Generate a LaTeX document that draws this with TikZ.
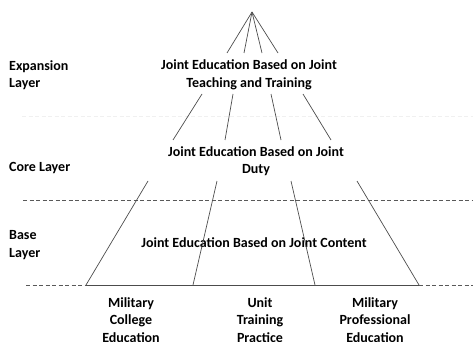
\documentclass[tikz,border=0pt]{standalone}
\usepackage{fontspec}
\setmainfont{Carlito}
\tikzset{
    layer/.style={
           align=left,
           anchor=west,
           inner sep=0pt,
           font=\fontsize{14}{17.5}\selectfont\bfseries},
    stage/.style={
           align=center,
           inner sep=0pt,
           font=\fontsize{14}{17.5}\selectfont\bfseries},
    ray/.style={draw=black!70, line width=0.7pt},
    sep/.style={draw=black!65, line width=0.7pt, dash pattern=on 4pt off 2.5pt},
    faint/.style={draw=black!6, line width=0.8pt, dash pattern=on 4pt off 2.5pt}
    }
\begin{document}
\begin{tikzpicture}[x=1pt,y=-1pt]
      \useasboundingbox (0,0) rectangle (473,342);
      % layer names
      \node[layer] (expL) at (9,75) {Expansion\\Layer};
      \node[layer] (coreL) at (9,168) {Core Layer};
      \node[layer] (baseL) at (9,245) {Base\\Layer};
      % stages
      \node[stage] (exp) at (249,75) {Joint Education Based on Joint\\Teaching and Training};
      \node[stage] (core) at (256,161) {Joint Education Based on Joint\\Duty};
      \node[stage] (base) at (254,243) {Joint Education Based on Joint Content};
      \node[stage] (mce) at (131,320) {Military\\College\\Education};
      \node[stage] (utp) at (260,320) {Unit\\Training\\Practice};
      \node[stage] (mpe) at (375,320) {Military\\Professional\\Education};
      % ray ends
      \coordinate (apex) at (252,12);
      \coordinate (a1) at (227,53);
      \coordinate (a2) at (244,53);
      \coordinate (a3) at (262,53);
      \coordinate (a4) at (278,53);
      \coordinate (b1) at (202,94);
      \coordinate (b2) at (233,94);
      \coordinate (b3) at (271,94);
      \coordinate (b4) at (303,94);
      \coordinate (c1) at (173,140);
      \coordinate (c2) at (225,140);
      \coordinate (c3) at (281,140);
      \coordinate (c4) at (331,140);
      \coordinate (d1) at (148,181);
      \coordinate (d2) at (217,181);
      \coordinate (d3) at (291,181);
      \coordinate (d4) at (357,181);
      \coordinate (e1) at (86,285);
      \coordinate (e2) at (193,285);
      \coordinate (e3) at (315,285);
      \coordinate (e4) at (419,285);
      % layer borders
      \coordinate (f0) at (22,116);
      \coordinate (f1) at (473,116);
      \coordinate (g0) at (23,200);
      \coordinate (g1) at (473,200);
      \coordinate (h0) at (26,285);
      \coordinate (h1) at (473,285);
      \draw[faint] (f0) -- (f1);
      \draw[sep] (g0) -- (g1);
      \draw[sep] (h0) -- (e1);
      \draw[sep] (e4) -- (h1);
      \draw[ray] (e1) -- (e4);
      \draw[ray] (apex) -- (a1);
      \draw[ray] (apex) -- (a2);
      \draw[ray] (apex) -- (a3);
      \draw[ray] (apex) -- (a4);
      \draw[ray] (b1) -- (c1);
      \draw[ray] (b2) -- (c2);
      \draw[ray] (b3) -- (c3);
      \draw[ray] (b4) -- (c4);
      \draw[ray] (d1) -- (e1);
      \draw[ray] (d2) -- (e2);
      \draw[ray] (d3) -- (e3);
      \draw[ray] (d4) -- (e4);
\end{tikzpicture}
\end{document}
